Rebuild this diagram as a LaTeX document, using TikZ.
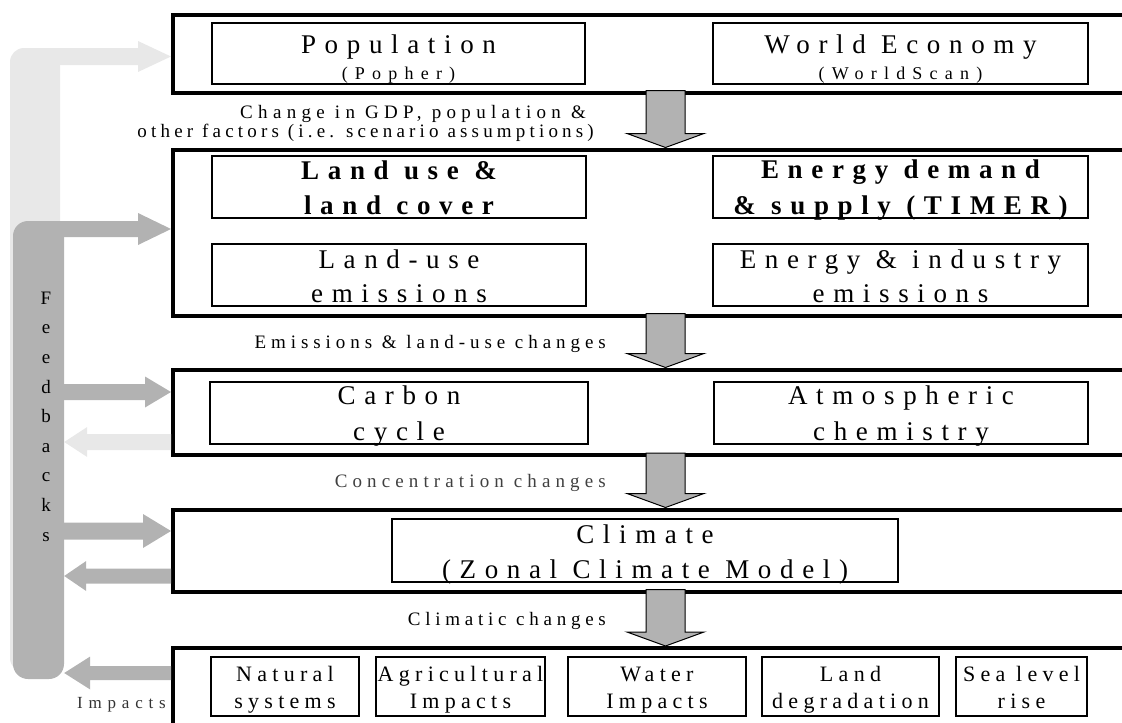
\documentclass[tikz,border=0pt]{standalone}
\usepackage{fontspec}
\setmainfont{Liberation Serif}
\newfontfamily\ttlfont[LetterSpace=32]{Liberation Serif}
\newfontfamily\subfont[LetterSpace=40]{Liberation Serif}
\newfontfamily\midfont[LetterSpace=22]{Liberation Serif}
\newfontfamily\cellfont[LetterSpace=24]{Liberation Serif}
\newfontfamily\fbfont{Liberation Serif}
\usetikzlibrary{calc,fit}

\definecolor{fbdark}{RGB}{178,178,178}
\definecolor{fblight}{RGB}{232,232,232}
\definecolor{flowgrey}{RGB}{178,178,178}

% horizontal block arrow: #1 colour, #2 tail, #3 tip, #4 half shaft, #5 half head, #6 head length
\newcommand\harrow[6]{%
  \fill[#1] let \p1=#2, \p2=#3, \n1={(\x2>\x1)*2-1} in
    (\x1,\y2+#4) -- (\x2-\n1*#6,\y2+#4) -- (\x2-\n1*#6,\y2+#5) -- (\x2,\y2)
    -- (\x2-\n1*#6,\y2-#5) -- (\x2-\n1*#6,\y2-#4) -- (\x1,\y2-#4) -- cycle;}

% vertical flow arrow from the bottom of one layer to the top of the next
\newcommand\flowarrow[2]{%
  \filldraw[flow]
    ($(665.5,0 |- #1.south)+(-19.5,-4)$) -- ($(665.5,0 |- #2.north)+(-19.5,-14)$)
    -- ($(665.5,0 |- #2.north)+(-38.5,-14)$) -- (665.5,0 |- #2.north)
    -- ($(665.5,0 |- #2.north)+(38.5,-14)$) -- ($(665.5,0 |- #2.north)+(19.5,-14)$)
    -- ($(665.5,0 |- #1.south)+(19.5,-4)$) -- cycle;}

\begin{document}
\begin{tikzpicture}[x=1pt,y=-1pt,
  layer/.style={draw, line width=4pt, inner sep=0pt},
  cell/.style={draw, line width=1.6pt, inner sep=0pt},
  flow/.style={fill=flowgrey, draw=black, line width=1pt, line join=miter},
  title/.style={font={\ttlfont\fontsize{27}{27}\selectfont}, inner sep=0pt, anchor=base},
  titlebf/.style={font={\ttlfont\bfseries\fontsize{27}{27}\selectfont}, inner sep=0pt, anchor=base},
  subtitle/.style={font={\subfont\fontsize{18}{18}\selectfont}, inner sep=0pt, anchor=base},
  between/.style={font={\midfont\fontsize{19}{19}\selectfont\addfontfeature{LetterSpace=#1}},
    inner sep=0pt, anchor=base east},
  between/.default=22,
  celltext/.style={font={\cellfont\fontsize{22}{22}\selectfont}, inner sep=0pt, anchor=base},
]
\useasboundingbox (0,0) rectangle (1122,723);
\clip (0,0) rectangle (1122,723);

% model layers (open to the right)
\node[layer, fit={(173,15) (1140,92.5)}] (L1) {};
\node[layer, fit={(173,149.5) (1140,315.5)}] (L2) {};
\node[layer, fit={(173,369.5) (1140,455)}] (L3) {};
\node[layer, fit={(173,509.5) (1140,591.5)}] (L4) {};
\node[layer, fit={(173,648) (1140,745)}] (L5) {};

% model components
\node[cell, fit={(212,23) (585,84)}] (pop) {};
\node[cell, fit={(713,23) (1088,84)}] (we) {};
\node[cell, fit={(212,156) (586,218)}] (lu) {};
\node[cell, fit={(713,156) (1088,218)}] (ed) {};
\node[cell, fit={(212,244) (586,306)}] (lue) {};
\node[cell, fit={(713,244) (1088,306)}] (eie) {};
\node[cell, fit={(210,382) (588,444)}] (cc) {};
\node[cell, fit={(714,382) (1088,444)}] (ac) {};
\node[cell, fit={(392,519) (898,582)}] (cl) {};
\node[cell, fit={(211,657) (359,716)}] (ns) {};
\node[cell, fit={(376,657) (545,716)}] (ai) {};
\node[cell, fit={(568,657) (746,716)}] (wi) {};
\node[cell, fit={(762,657) (939,716)}] (ld) {};
\node[cell, fit={(956,657) (1087,716)}] (sl) {};

% flow between layers
\flowarrow{L1}{L2}
\flowarrow{L2}{L3}
\flowarrow{L3}{L4}
\flowarrow{L4}{L5}

% feedback loop
\node[fill=fblight, rounded corners=14pt, inner sep=0pt, fit={(10,48) (60,672)}] (fbl) {};
\harrow{fblight}{(fbl.center |- 0,56.5)}{(L1.west |- 0,56.5)}{8.5pt}{15.5pt}{33pt}
\node[fill=fbdark, rounded corners=15pt, inner sep=0pt, fit={(13,221) (64,679)}] (fb) {};
\harrow{fbdark}{(fb.center |- 0,229)}{(L2.west |- 0,229)}{8pt}{16pt}{33pt}
\harrow{fbdark}{(fb.center |- 0,392)}{(L3.west |- 0,392)}{8pt}{15.5pt}{26pt}
\harrow{fblight}{(L3.west |- 0,442)}{(fb.east |- 0,442)}{8pt}{15pt}{23pt}
\harrow{fbdark}{(fb.center |- 0,531)}{(L4.west |- 0,531)}{8.5pt}{17pt}{28pt}
\harrow{fbdark}{(L4.west |- 0,576)}{(fb.east |- 0,576)}{7.5pt}{15pt}{22pt}
\harrow{fbdark}{(L5.west |- 0,673)}{(fb.east |- 0,673)}{7pt}{16.5pt}{26pt}
\node[font={\fbfont\fontsize{19}{29.6}\selectfont}, align=center, inner sep=0pt, anchor=base]
  (fbtext) at (46,541) {F\\e\\e\\d\\b\\a\\c\\k\\s};
\node[font={\subfont\fontsize{17}{17}\selectfont\addfontfeature{LetterSpace=34}}, text=black!80,
  inner sep=0pt, anchor=base west] (imp) at (77,708) {Impacts};

% layer 1
\node[title] (popA) at (pop.center |- 0,53) {Population};
\node[subtitle] (popB) at (pop.center |- 0,79) {(Popher)};
\node[title] (weA) at (we.center |- 0,53) {World Economy};
\node[subtitle] (weB) at (we.center |- 0,79) {(WorldScan)};
\node[between=28] (chgA) at (586,118) {Change in GDP, population \&};
\node[between] (chgB) at (594,137) {other factors (i.e. scenario assumptions)};

% layer 2
\node[titlebf] (luA) at (lu.center |- 0,179) {Land use \&};
\node[titlebf] (luB) at (lu.center |- 0,214) {land cover};
\node[titlebf] (edA) at (ed.center |- 0,178) {Energy demand};
\node[titlebf] (edB) at (ed.center |- 0,214) {\& supply (TIMER)};
\node[title] (lueA) at (lue.center |- 0,268) {Land-use};
\node[title] (lueB) at (lue.center |- 0,302) {emissions};
\node[title] (eieA) at (eie.center |- 0,268) {Energy \& industry};
\node[title] (eieB) at (eie.center |- 0,302) {emissions};
\node[between=26] (emi) at (606,348) {Emissions \& land-use changes};

% layer 3
\node[title] (ccA) at (cc.center |- 0,404) {Carbon};
\node[title] (ccB) at (cc.center |- 0,440) {cycle};
\node[title] (acA) at (ac.center |- 0,404) {Atmospheric};
\node[title] (acB) at (ac.center |- 0,440) {chemistry};
\node[between=27, text=black!75] (conc) at (606,487) {Concentration changes};

% layer 4
\node[title] (clA) at (cl.center |- 0,543) {Climate};
\node[title] (clB) at (cl.center |- 0,578) {(Zonal Climate Model)};
\node[between=25] (clim) at (606,625) {Climatic changes};

% layer 5
\node[celltext] (nsA) at (ns.center |- 0,681) {Natural};
\node[celltext] (nsB) at (ns.center |- 0,708) {systems};
\node[celltext] (aiA) at (ai.center |- 0,681) {Agricultural};
\node[celltext] (aiB) at (ai.center |- 0,708) {Impacts};
\node[celltext] (wiA) at (wi.center |- 0,681) {Water};
\node[celltext] (wiB) at (wi.center |- 0,708) {Impacts};
\node[celltext] (ldA) at (ld.center |- 0,681) {Land};
\node[celltext] (ldB) at (ld.center |- 0,708) {degradation};
\node[celltext] (slA) at (sl.center |- 0,681) {Sea level};
\node[celltext] (slB) at (sl.center |- 0,708) {rise};
\end{tikzpicture}
\end{document}
